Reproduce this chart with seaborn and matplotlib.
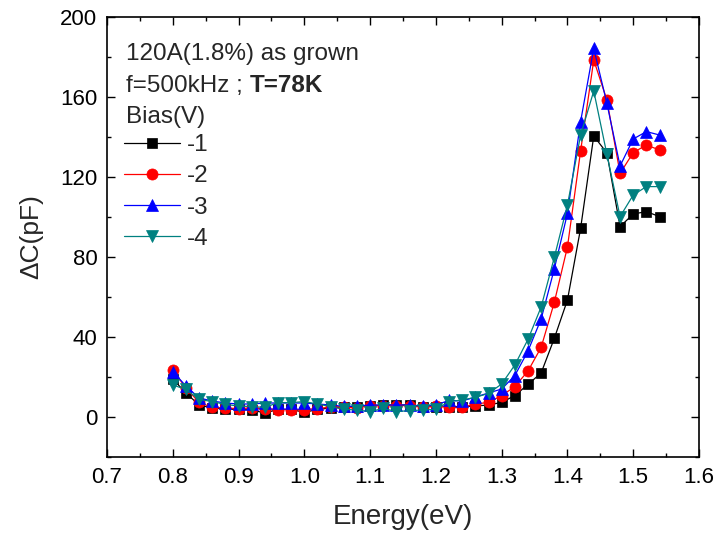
import matplotlib
matplotlib.use("Agg")
import matplotlib.pyplot as plt
from matplotlib.ticker import MultipleLocator
import seaborn as sns

# ---- data ----
energy = [0.80, 0.82, 0.84, 0.86, 0.88, 0.90, 0.92, 0.94, 0.96, 0.98,
          1.00, 1.02, 1.04, 1.06, 1.08, 1.10, 1.12, 1.14, 1.16, 1.18,
          1.20, 1.22, 1.24, 1.26, 1.28, 1.30, 1.32, 1.34, 1.36, 1.38,
          1.40, 1.42, 1.44, 1.46, 1.48, 1.50, 1.52, 1.54]

bias_m1 = [19.0, 12.0, 6.0, 4.5, 4.0, 3.8, 3.5, 2.0, 3.8, 3.8,
           2.3, 3.8, 4.5, 5.2, 5.2, 5.5, 6.0, 6.0, 6.0, 5.2,
           5.2, 5.2, 5.2, 5.5, 6.0, 7.3, 10.7, 16.3, 22.0, 39.3,
           58.5, 94.3, 140.5, 132.0, 95.2, 101.5, 102.7, 100.2]

bias_m2 = [23.5, 14.5, 7.3, 4.8, 4.5, 4.2, 4.5, 4.2, 3.7, 3.7,
           3.7, 4.2, 5.0, 5.0, 4.6, 5.7, 5.7, 5.7, 5.7, 5.0,
           5.7, 4.8, 4.8, 6.5, 7.3, 10.7, 15.2, 23.0, 34.8, 57.3,
           85.0, 133.0, 178.5, 158.5, 121.8, 132.2, 136.0, 133.5]

bias_m3 = [22.7, 15.5, 9.5, 8.0, 7.0, 6.5, 6.5, 7.0, 7.0, 7.0,
           7.0, 6.5, 6.0, 5.3, 5.5, 6.0, 6.0, 6.0, 6.0, 5.5,
           6.0, 8.3, 8.0, 10.0, 12.0, 14.0, 20.7, 33.0, 49.0, 74.0,
           101.8, 147.7, 184.3, 156.8, 125.5, 139.0, 142.7, 141.0]

bias_m4 = [16.0, 13.8, 8.8, 7.7, 6.3, 5.5, 5.2, 4.8, 7.2, 7.2,
           7.7, 6.5, 5.2, 3.8, 3.5, 2.7, 4.3, 2.7, 3.2, 3.5,
           3.8, 7.7, 8.5, 9.8, 11.8, 16.5, 26.0, 38.8, 55.0, 79.8,
           106.0, 141.0, 163.0, 131.3, 100.2, 111.0, 115.2, 115.2]

series_labels = ["-1", "-2", "-3", "-4"]
x_ticks = [0.7, 0.8, 0.9, 1.0, 1.1, 1.2, 1.3, 1.4, 1.5, 1.6]
y_ticks = [0, 40, 80, 120, 160, 200]

# ---- style ----
sns.set_style("ticks")
plt.rcParams["font.family"] = ["Liberation Sans", "DejaVu Sans"]

fig = plt.figure(figsize=(7.19, 5.37), dpi=100)
ax = fig.add_axes([107 / 719, 1 - 457 / 537, 592 / 719, 440 / 537])

colors = ["#000000", "#FF0000", "#0000FF", "#008080"]
markers = ["s", "o", "^", "v"]
msizes = [7.0, 8.0, 9.0, 9.0]
for ys, lab, c, m, ms in zip([bias_m1, bias_m2, bias_m3, bias_m4],
                             series_labels, colors, markers, msizes):
    sns.lineplot(x=energy, y=ys, ax=ax, color=c, marker=m, markersize=ms,
                 markeredgecolor=c, markeredgewidth=0.5, linewidth=0.9,
                 label=lab, errorbar=None, sort=False)

ax.set_xlim(0.7, 1.6)
ax.set_ylim(-20, 200)
ax.set_xticks(x_ticks)
ax.set_xticklabels([f"{v:.1f}" for v in x_ticks])
ax.set_yticks(y_ticks)
ax.xaxis.set_minor_locator(MultipleLocator(0.05))
ax.yaxis.set_minor_locator(MultipleLocator(20))
ax.tick_params(which="both", direction="in", top=True, right=True,
               labelsize=16, width=1.0, colors="black")
ax.tick_params(which="major", length=6, pad=7)
ax.tick_params(which="minor", length=3)
for s in ax.spines.values():
    s.set_linewidth(1.2)
    s.set_color("black")

ax.set_xlabel("Energy(eV)", fontsize=20, labelpad=12)
ax.set_ylabel("ΔC(pF)", fontsize=19, labelpad=12)

# annotation text
tx = (126 - 107) / 592
ax.text(tx, (457 - 60) / 440, "120A(1.8%) as grown", transform=ax.transAxes,
        fontsize=17.5, va="baseline", ha="left")
t1 = ax.text(tx, (457 - 92) / 440, "f=500kHz ; ", transform=ax.transAxes,
             fontsize=17.5, va="baseline", ha="left")
ax.annotate("T=78K", xy=(1.0, (457 - 92) / 440),
            xycoords=(t1, "axes fraction"), fontsize=17.5,
            fontweight="bold", va="baseline", ha="left")
ax.text(tx, (457 - 123) / 440, "Bias(V)", transform=ax.transAxes,
        fontsize=17.5, va="baseline", ha="left")

leg = ax.legend(loc="upper left", bbox_to_anchor=((124 - 107) / 592, (457 - 134) / 440),
                frameon=False, fontsize=17.5, handlelength=2.3,
                handletextpad=0.3, labelspacing=0.38, borderpad=0,
                borderaxespad=0)

fig.savefig("out.png", dpi=100)
